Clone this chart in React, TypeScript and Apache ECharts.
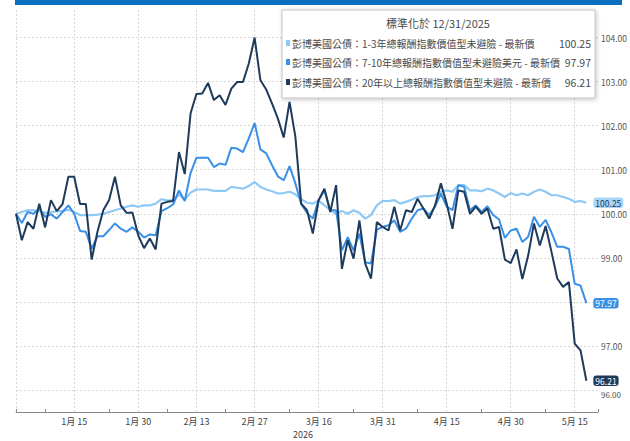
import React, { useEffect, useRef } from "react";
import * as echarts from "echarts";

const dates = [
  "1/1","1/2","1/5","1/6","1/7","1/8","1/9","1/12","1/13","1/14","1/15","1/16","1/19","1/20","1/21","1/22","1/23","1/26","1/27","1/28","1/29","1/30",
  "2/2","2/3","2/4","2/5","2/6","2/9","2/10","2/11","2/12","2/13","2/16","2/17","2/18","2/19","2/20","2/23","2/24","2/25","2/26","2/27",
  "3/2","3/3","3/4","3/5","3/6","3/9","3/10","3/11","3/12","3/13","3/16","3/17","3/18","3/19","3/20","3/23","3/24","3/25","3/26","3/27","3/30","3/31",
  "4/1","4/2","4/3","4/6","4/7","4/8","4/9","4/10","4/13","4/14","4/15","4/16","4/17","4/20","4/21","4/22","4/23","4/24","4/27","4/28","4/29","4/30",
  "5/1","5/4","5/5","5/6","5/7","5/8","5/11","5/12","5/13","5/14","5/15","5/18","5/19","5/20","5/21",
];

const labelDates = ["1/15", "1/30", "2/13", "2/27", "3/16", "3/31", "4/15", "4/30", "5/15"];
const tickDates = ["1/1", "1/8", "1/23", "2/6", "2/20", "3/9", "3/24", "4/8", "4/23", "5/8", "5/21"];
const yTicks = [96, 97, 98, 99, 100, 101, 102, 103, 104];
// 98.00 sits fully under the 97.97 tag in the reference, so its label is not shown
const yLabelValues = [96, 97, 99, 100, 101, 102, 103, 104];

const seriesNames = [
  "彭博美國公債：1-3年總報酬指數價值型未避險 - 最新價",
  "彭博美國公債：7-10年總報酬指數價值型未避險美元 - 最新價",
  "彭博美國公債：20年以上總報酬指數價值型未避險 - 最新價",
];

const bond13 = [
  100.00, 100.04, 100.08, 100.08, 100.06, 100.02, 100.03, 100.06, 100.06, 100.09,
  100.04, 99.97, 99.97, 99.97, 99.98, 100.00, 100.04, 100.08, 100.12, 100.16,
  100.19, 100.16, 100.19, 100.19, 100.23, 100.33, 100.30, 100.31, 100.44, 100.32,
  100.48, 100.55, 100.55, 100.55, 100.52, 100.52, 100.52, 100.61, 100.59, 100.57,
  100.63, 100.72, 100.61, 100.55, 100.51, 100.46, 100.47, 100.50, 100.44, 100.33,
  100.25, 100.23, 100.30, 100.19, 100.09, 100.00, 100.06, 100.00, 100.08, 100.02,
  99.89, 99.97, 100.19, 100.29, 100.29, 100.31, 100.23, 100.27, 100.32, 100.38,
  100.40, 100.40, 100.42, 100.50, 100.53, 100.50, 100.65, 100.65, 100.53, 100.53,
  100.51, 100.57, 100.53, 100.46, 100.38, 100.47, 100.42, 100.46, 100.42, 100.50,
  100.55, 100.50, 100.42, 100.42, 100.38, 100.34, 100.27, 100.29, 100.25,
];

const bond710 = [
  100.00, 99.79, 100.04, 100.00, 100.12, 99.93, 99.99, 99.89, 100.04, 100.19,
  100.00, 99.61, 99.59, 99.21, 99.49, 99.49, 99.63, 99.78, 99.66, 99.59,
  99.69, 99.59, 99.46, 99.53, 99.51, 100.06, 100.13, 100.21, 100.53, 100.29,
  100.93, 101.27, 101.27, 101.27, 101.06, 101.14, 101.11, 101.50, 101.48, 101.40,
  101.71, 102.06, 101.46, 101.37, 101.10, 100.85, 100.76, 101.08, 100.69, 100.22,
  100.02, 99.89, 100.31, 100.53, 100.08, 100.08, 99.17, 99.47, 99.17, 99.55,
  98.90, 98.87, 99.64, 99.70, 99.74, 99.85, 99.59, 99.66, 99.89, 100.08,
  100.12, 99.97, 100.16, 100.46, 100.16, 100.08, 100.65, 100.61, 100.08, 100.19,
  100.04, 100.17, 99.97, 99.87, 99.45, 99.62, 99.66, 99.36, 99.48, 99.93,
  99.70, 99.86, 99.58, 99.25, 99.25, 99.20, 98.41, 98.37, 97.97,
];

const bond20 = [
  100.00, 99.40, 99.81, 99.66, 100.23, 99.69, 100.31, 100.06, 100.22, 100.84,
  100.84, 100.22, 100.22, 98.96, 99.59, 100.08, 100.31, 100.84, 100.19, 100.02,
  100.03, 99.51, 99.22, 99.44, 99.19, 100.23, 100.27, 100.29, 101.40, 100.90,
  102.28, 102.72, 102.73, 102.97, 102.58, 102.69, 102.47, 102.84, 102.99, 102.99,
  103.41, 104.00, 103.03, 102.82, 102.50, 102.16, 101.73, 102.54, 101.75, 100.23,
  100.08, 99.55, 100.31, 100.57, 100.04, 100.65, 98.75, 99.40, 98.98, 99.85,
  98.87, 98.53, 99.81, 99.70, 99.62, 100.16, 99.62, 100.08, 100.04, 100.34,
  100.12, 99.89, 100.19, 100.69, 100.23, 99.66, 100.53, 100.50, 100.00, 100.16,
  100.00, 100.12, 99.66, 99.70, 98.96, 98.88, 99.19, 98.52, 99.05, 99.78,
  99.28, 99.72, 99.14, 98.53, 98.34, 98.45, 97.05, 96.90, 96.21,
];

const colors = ["#8ec8f4", "#3a8fe6", "#1f3b5c"];
const tagText = ["#1f3b5c", "#ffffff", "#ffffff"];
const tagBg = ["#a9d5f7", "#3a8fe6", "#1f3b5c"];

const narrow = "'Liberation Sans Narrow', 'Arial Narrow', 'Noto Sans CJK TC', sans-serif";

export default function App() {
  const ref = useRef<HTMLDivElement>(null);
  useEffect(() => {
    if (!ref.current) return;
    const chart = echarts.init(ref.current, undefined, { renderer: "svg" });
    const allSeries = [bond13, bond710, bond20];
    const rowsY = [43, 62, 82];

    const legendGraphics: any[] = [];
    seriesNames.forEach((name, i) => {
      const last = allSeries[i][allSeries[i].length - 1];
      legendGraphics.push(
        {
          type: "rect",
          shape: { x: 286, y: rowsY[i] - 3, width: 4, height: 6 },
          style: { fill: colors[i] },
          z: 101,
        },
        {
          type: "text",
          x: 292,
          y: rowsY[i],
          style: {
            text: name,
            fill: "#4a4a4a",
            fontSize: 10,
            fontFamily: narrow,
            verticalAlign: "middle",
            align: "left",
          },
          z: 101,
        },
        {
          type: "text",
          x: 591,
          y: rowsY[i],
          style: {
            text: last.toFixed(2),
            fill: "#4a4a4a",
            fontSize: 10.5,
            fontFamily: narrow,
            verticalAlign: "middle",
            align: "right",
          },
          z: 101,
        }
      );
    });

    const option: any = {
      animation: false,
      backgroundColor: "#ffffff",
      grid: { left: 16, right: 32, top: 10, bottom: 29, containLabel: false },
      xAxis: {
        type: "category",
        data: dates,
        boundaryGap: false,
        axisLine: { lineStyle: { color: "#8a8a8a", width: 1 } },
        axisTick: {
          show: true,
          inside: true,
          length: 3,
          interval: (i: number, v: string) => tickDates.includes(v),
          lineStyle: { color: "#8a8a8a" },
        },
        axisLabel: {
          interval: (i: number, v: string) => labelDates.includes(v),
          formatter: (v: string) => {
            const [m, d] = v.split("/");
            return `${m}月 ${d}`;
          },
          color: "#444",
          fontSize: 9,
          fontFamily: narrow,
          margin: 5,
        },
        splitLine: {
          show: true,
          interval: (i: number, v: string) => i === 0 || labelDates.includes(v),
          lineStyle: { color: "#d6d6d6", type: [2, 2], width: 1 },
        },
      },
      yAxis: {
        type: "value",
        position: "right",
        min: 95.5,
        max: 104.625,
        axisLine: { show: false },
        axisTick: { show: false, customValues: yTicks },
        axisLabel: {
          customValues: yLabelValues,
          formatter: (v: number) => (v === 96 ? `{low|${v.toFixed(2)}}` : v.toFixed(2)),
          color: "#555",
          fontSize: 8.5,
          fontFamily: narrow,
          margin: 3,
          rich: {
            low: {
              color: "#555",
              fontSize: 8,
              fontFamily: narrow,
              padding: [9, 0, 0, 0],
            },
          },
        },
        splitLine: {
          show: true,
          lineStyle: { color: "#d6d6d6", type: [2, 2], width: 1 },
        },
      },
      series: allSeries.map((data, i) => ({
        name: seriesNames[i],
        type: "line",
        data,
        symbol: "none",
        lineStyle: { color: colors[i], width: i === 0 ? 2.2 : 2 },
        itemStyle: { color: colors[i] },
        z: 2 + i,
        endLabel: {
          show: true,
          formatter: (p: any) => Number(p.value).toFixed(2),
          color: tagText[i],
          backgroundColor: tagBg[i],
          padding: [1, 2, 1, 2],
          borderRadius: 3,
          fontSize: 8.5,
          fontFamily: narrow,
          distance: 7,
        },
      })),
      graphic: [
        {
          type: "rect",
          shape: { x: 15, y: 0, width: 607, height: 5 },
          style: { fill: "#0b6fc0" },
          z: 100,
        },
        {
          type: "rect",
          shape: { x: 282, y: 10, width: 313, height: 88 },
          style: {
            fill: "#ffffff",
            stroke: "#c4c4c4",
            lineWidth: 1,
            shadowBlur: 4,
            shadowColor: "rgba(0,0,0,0.25)",
            shadowOffsetX: 1,
            shadowOffsetY: 1,
          },
          z: 100,
        },
        {
          type: "text",
          x: 438,
          y: 23,
          style: {
            text: "標準化於 12/31/2025",
            fill: "#4a4a4a",
            fontSize: 11,
            fontFamily: narrow,
            align: "center",
            verticalAlign: "middle",
          },
          z: 101,
        },
        ...legendGraphics,
        {
          type: "text",
          x: 303,
          y: 434,
          style: {
            text: "2026",
            fill: "#444",
            fontSize: 9,
            fontFamily: narrow,
            align: "center",
            verticalAlign: "middle",
          },
          z: 101,
        },
      ],
    };
    chart.setOption(option);
    return () => chart.dispose();
  }, []);
  return (
    <div
      ref={ref}
      style={{ position: "fixed", left: 0, top: 0, width: 630, height: 441 }}
    />
  );
}
